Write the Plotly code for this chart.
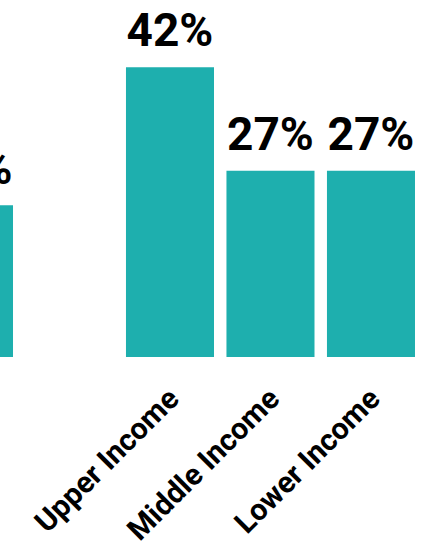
import plotly.graph_objects as go

# Share of respondents by income group
categories = ["Overall", "Upper Income", "Middle Income", "Lower Income"]
positions = [0, 2, 3, 4]
values = [22, 42, 27, 27]

TEAL = "#1EAFAE"
W, H = 437, 547

fig = go.Figure()

fig.add_trace(
    go.Bar(
        x=positions,
        y=values,
        width=0.876,
        marker=dict(color=TEAL, line=dict(width=0)),
        hoverinfo="skip",
    )
)

# value labels sit a little above each bar (transparent marker sets the gap)
fig.add_trace(
    go.Scatter(
        x=positions,
        y=values,
        mode="markers+text",
        text=[f"{v}%" for v in values],
        textposition="top center",
        textfont=dict(family="Roboto", size=46, color="#000000", weight="bold"),
        marker=dict(size=13.6, opacity=0, color=TEAL),
        hoverinfo="skip",
        cliponaxis=True,
    )
)

fig.update_layout(
    width=W,
    height=H,
    margin=dict(l=0, r=0, t=0, b=190, autoexpand=False),
    paper_bgcolor="white",
    plot_bgcolor="white",
    showlegend=False,
    xaxis=dict(
        range=[0.3085, 4.657],
        tickmode="array",
        tickvals=positions,
        ticktext=categories,
        tickangle=-45,
        tickfont=dict(family="Roboto", size=30, color="#000000", weight="bold"),
        ticklabelstandoff=17,
        automargin=False,
        showgrid=False,
        zeroline=False,
        showline=False,
        ticks="",
    ),
    yaxis=dict(
        range=[0, 51.74],
        visible=False,
        automargin=False,
        showgrid=False,
        zeroline=False,
    ),
)

fig.write_html("out.html")
